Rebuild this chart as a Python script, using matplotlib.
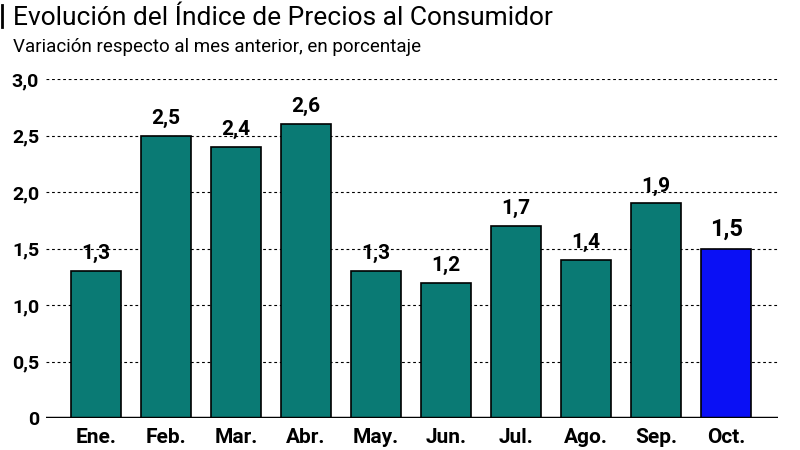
import matplotlib
matplotlib.use('Agg')
import matplotlib.pyplot as plt
from matplotlib.lines import Line2D

months = ['Ene.', 'Feb.', 'Mar.', 'Abr.', 'May.', 'Jun.', 'Jul.', 'Ago.', 'Sep.', 'Oct.']
values = [1.3, 2.5, 2.4, 2.6, 1.3, 1.2, 1.7, 1.4, 1.9, 1.5]
yticks = [0, 0.5, 1.0, 1.5, 2.0, 2.5, 3.0]
ytick_labels = ['0', '0,5', '1,0', '1,5', '2,0', '2,5', '3,0']

plt.rcParams['font.family'] = ['Roboto', 'DejaVu Sans']

teal = '#0a7a74'
blue = '#0a10f5'
colors = [teal] * (len(values) - 1) + [blue]

fig = plt.figure(figsize=(8, 4.5), dpi=100)
ax = fig.add_axes([0.0575, 0.071, 0.915, 0.753])

x = list(range(len(values)))
ax.bar(x, values, width=0.71, color=colors, edgecolor='black', linewidth=1.2, zorder=3)

for i, v in enumerate(values):
    lbl = ('%.1f' % v).replace('.', ',')
    size = 17 if i == len(values) - 1 else 15
    ax.text(i, v + 0.07, lbl, ha='center', va='bottom', fontsize=size,
            fontweight='bold', zorder=4)

ax.set_ylim(0, 3.0)
ax.set_xlim(-0.714, 9.74)
ax.set_yticks(yticks)
ax.set_yticklabels(ytick_labels, fontsize=14, fontweight='bold')
ax.set_xticks(x)
ax.set_xticklabels(months, fontsize=15, fontweight='bold')
ax.tick_params(axis='both', length=0, pad=5)
ax.tick_params(axis='x', pad=7)

for y in yticks[1:]:
    ax.axhline(y, color='black', linestyle=(0, (2.5, 2.5)), linewidth=0.8, zorder=1)
ax.axhline(0, color='black', linewidth=2.5, zorder=5)

for s in ['top', 'bottom', 'left', 'right']:
    ax.spines[s].set_visible(False)

fig.add_artist(Line2D([0.003, 0.003], [0.94, 0.99], color='black', linewidth=2))
fig.text(0.016, 0.944, 'Evolución del Índice de Precios al Consumidor', fontsize=19,
         va='baseline', ha='left')
fig.text(0.016, 0.884, 'Variación respecto al mes anterior, en porcentaje', fontsize=13.5,
         va='baseline', ha='left')

fig.savefig('out.png', dpi=100)
